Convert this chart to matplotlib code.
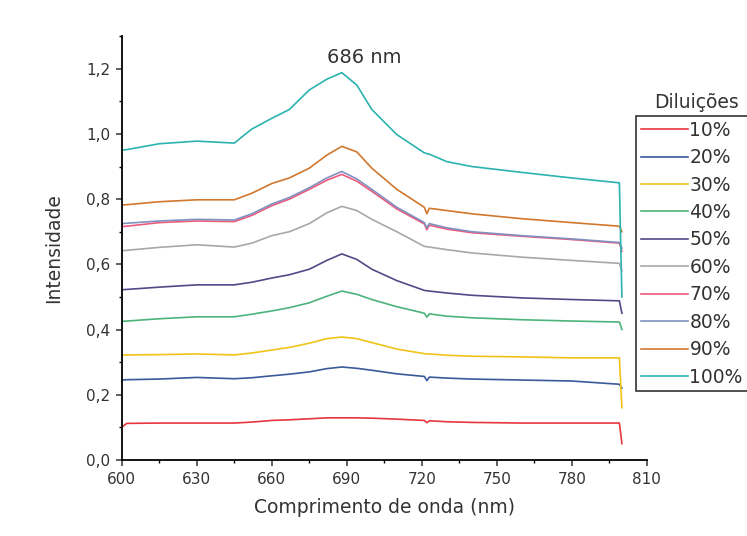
import matplotlib.pyplot as plt
from matplotlib.ticker import MultipleLocator, FuncFormatter

plt.rcParams['font.family'] = ['DejaVu Sans']

# wavelength grid (nm)
wl = [600, 602, 615, 630, 645, 652, 660, 667, 675, 682, 688, 694, 700, 710,
      721, 722, 723, 730, 740, 760, 780, 799, 800]

d10 = [0.100, 0.112, 0.113, 0.113, 0.113, 0.116, 0.121, 0.123, 0.126, 0.129, 0.129, 0.129,
       0.128, 0.125, 0.121, 0.114, 0.120, 0.117, 0.115, 0.113, 0.113, 0.113, 0.050]
d20 = [0.245, 0.246, 0.248, 0.253, 0.249, 0.252, 0.258, 0.263, 0.270, 0.280, 0.285, 0.281,
       0.275, 0.264, 0.256, 0.243, 0.254, 0.251, 0.248, 0.245, 0.242, 0.232, 0.220]
d30 = [0.322, 0.322, 0.323, 0.325, 0.322, 0.328, 0.337, 0.345, 0.358, 0.372, 0.377, 0.372,
       0.360, 0.340, 0.326, 0.325, 0.325, 0.321, 0.318, 0.316, 0.313, 0.313, 0.160]
d40 = [0.425, 0.426, 0.433, 0.439, 0.439, 0.447, 0.457, 0.467, 0.482, 0.502, 0.518, 0.508,
       0.492, 0.470, 0.450, 0.438, 0.448, 0.441, 0.436, 0.430, 0.426, 0.423, 0.400]
d50 = [0.522, 0.523, 0.530, 0.537, 0.537, 0.545, 0.558, 0.568, 0.585, 0.612, 0.632, 0.615,
       0.585, 0.550, 0.520, 0.519, 0.518, 0.512, 0.505, 0.497, 0.492, 0.488, 0.450]
d60 = [0.642, 0.643, 0.652, 0.660, 0.653, 0.665, 0.688, 0.700, 0.725, 0.758, 0.778, 0.765,
       0.738, 0.700, 0.655, 0.654, 0.653, 0.645, 0.635, 0.622, 0.612, 0.603, 0.580]
d70 = [0.716, 0.717, 0.728, 0.733, 0.731, 0.750, 0.780, 0.800, 0.830, 0.858, 0.876, 0.855,
       0.824, 0.770, 0.724, 0.706, 0.720, 0.708, 0.697, 0.686, 0.676, 0.665, 0.640]
d80 = [0.725, 0.726, 0.733, 0.738, 0.736, 0.755, 0.785, 0.805, 0.835, 0.865, 0.885, 0.862,
       0.830, 0.775, 0.728, 0.712, 0.725, 0.712, 0.700, 0.688, 0.678, 0.667, 0.650]
d90 = [0.782, 0.783, 0.792, 0.798, 0.798, 0.818, 0.848, 0.865, 0.895, 0.935, 0.962, 0.945,
       0.895, 0.830, 0.775, 0.755, 0.772, 0.765, 0.755, 0.740, 0.728, 0.717, 0.700]
d100 = [0.950, 0.952, 0.970, 0.978, 0.972, 1.015, 1.048, 1.075, 1.135, 1.168, 1.188, 1.150,
        1.075, 0.998, 0.942, 0.940, 0.938, 0.915, 0.900, 0.882, 0.865, 0.850, 0.500]

labels = ['10%', '20%', '30%', '40%', '50%', '60%', '70%', '80%', '90%', '100%']
series = [d10, d20, d30, d40, d50, d60, d70, d80, d90, d100]
colors = ['#e8363c', '#3a5a9a', '#f0c419', '#4cb37a', '#4f4a88',
          '#a8a8a8', '#ee5a7a', '#8090c0', '#d2772e', '#2bb3b0']

fig = plt.figure(figsize=(7.47, 5.36), dpi=100)
ax = fig.add_axes([0.163, 0.142, 0.703, 0.7905])

for y, lab, c in zip(series, labels, colors):
    ax.plot(wl, y, color=c, linewidth=1.2, label=lab)

ax.set_xlim(600, 810)
ax.set_ylim(0, 1.3)
ax.spines['top'].set_visible(False)
ax.spines['right'].set_visible(False)
ax.spines['left'].set_linewidth(1.3)
ax.spines['bottom'].set_linewidth(1.3)

ax.xaxis.set_major_locator(MultipleLocator(30))
ax.xaxis.set_minor_locator(MultipleLocator(15))
ax.yaxis.set_major_locator(MultipleLocator(0.2))
ax.yaxis.set_minor_locator(MultipleLocator(0.1))
ax.yaxis.set_major_formatter(FuncFormatter(lambda v, p: ('%.1f' % v).replace('.', ',')))
ax.tick_params(which='major', length=4.5, width=1.1, labelsize=11, colors='#333333', pad=4)
ax.tick_params(which='minor', length=2.5, width=1)

ax.set_xlabel('Comprimento de onda (nm)', fontsize=13.5, color='#333333', labelpad=8)
ax.set_ylabel('Intensidade', fontsize=13.5, color='#333333', labelpad=16)

ax.text(697, 1.235, '686 nm', ha='center', va='center', fontsize=14, color='#333333')

leg = fig.legend(loc='upper left', bbox_to_anchor=(636 / 747, 1 - 116 / 536),
                 fontsize=13.5, frameon=True, fancybox=False, edgecolor='black',
                 handlelength=2.5, handletextpad=0.1, labelspacing=0.45,
                 borderpad=0.25, borderaxespad=0)
leg.get_frame().set_linewidth(1.2)
for t in leg.get_texts():
    t.set_color('#333333')
fig.text(696 / 747, 1 - 103 / 536, 'Diluições', ha='center', va='center',
         fontsize=13.5, color='#333333')

fig.savefig('out.png', dpi=100)
